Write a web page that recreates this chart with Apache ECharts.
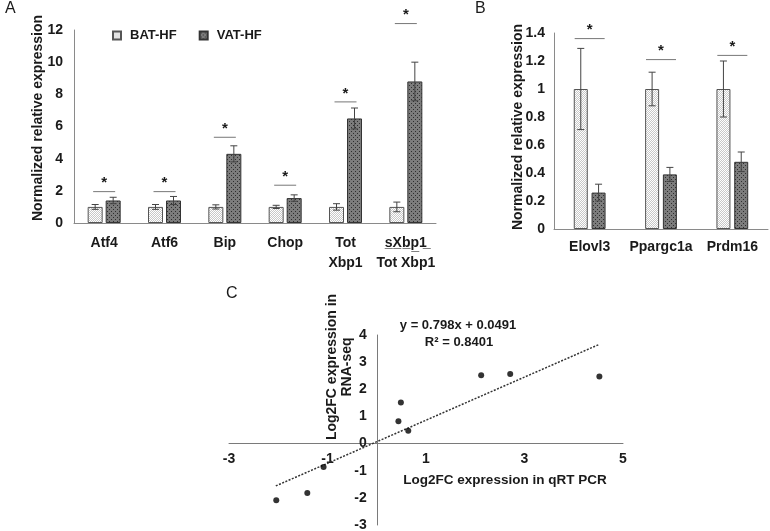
<!DOCTYPE html>
<html><head><meta charset="utf-8">
<script src="https://cdn.jsdelivr.net/npm/echarts@6/dist/echarts.min.js"></script>
<style>html,body{margin:0;padding:0;background:#fff}#c{width:770px;height:531px}</style>
</head><body><div id="c"></div>
<script>
// ---- Panel A data ----
const catsA = ['Atf4', 'Atf6', 'Bip', 'Chop', 'Tot\nXbp1', 'sXbp1\nTot Xbp1'];
const batA = [1, 1, 1, 1, 1, 1];
const batAErr = [0.15, 0.15, 0.13, 0.1, 0.2, 0.3];
const vatA = [1.4, 1.4, 4.3, 1.55, 6.5, 8.8];
const vatAErr = [0.2, 0.25, 0.5, 0.2, 0.65, 1.2];
const sigA = [1.95, 1.95, 5.33, 2.35, 7.53, 12.4];
const ticksA = [0, 2, 4, 6, 8, 10, 12];
// ---- Panel B data ----
const catsB = ['Elovl3', 'Ppargc1a', 'Prdm16'];
const batB = [1, 1, 1];
const batBErr = [0.29, 0.12, 0.2];
const vatB = [0.26, 0.39, 0.48];
const vatBErr = [0.06, 0.05, 0.07];
const sigB = [1.36, 1.21, 1.24];
const ticksB = [0, 0.2, 0.4, 0.6, 0.8, 1, 1.2, 1.4];
// ---- Panel C data ----
const qpcrX = [-2.04, -1.41, -1.08, 0.44, 0.49, 0.64, 2.12, 2.71, 4.52];
const rnaY = [-2.09, -1.82, -0.86, 0.82, 1.51, 0.47, 2.52, 2.56, 2.47];
const trendX = [-2.05, 4.5];
const trendY = [-1.56, 3.64];
const ticksCx = [-3, -1, 1, 3, 5];
const ticksCy = [-3, -2, -1, 0, 1, 2, 3, 4];
const seriesNames = ['BAT-HF', 'VAT-HF'];

const FONT = '"Liberation Sans", Arial, sans-serif';
const TXT = '#1a1a1a';

// grid C geometry (layout only)
const gC = { left: 229, top: 335, width: 394, height: 190 };
const cxMin = ticksCx[0], cxMax = ticksCx[ticksCx.length - 1];
const cyMin = ticksCy[0], cyMax = ticksCy[ticksCy.length - 1];
const xAxisOffsetC = -gC.height * (0 - cyMin) / (cyMax - cyMin);
const yAxisOffsetC = -gC.width * (0 - cxMin) / (cxMax - cxMin);

function makePattern(kind) {
  const c = document.createElement('canvas');
  const ctx = c.getContext('2d');
  if (kind === 'light') {
    c.width = 2; c.height = 2;
    ctx.fillStyle = '#ffffff'; ctx.fillRect(0, 0, 2, 2);
    ctx.fillStyle = '#c8c8c8'; ctx.fillRect(1, 0, 1, 1); ctx.fillRect(0, 1, 1, 1);
  } else {
    c.width = 4; c.height = 4;
    ctx.fillStyle = '#7c7c7c'; ctx.fillRect(0, 0, 4, 4);
    ctx.fillStyle = '#2e2e2e'; ctx.fillRect(1, 1, 1, 1); ctx.fillRect(3, 3, 1, 1);
  }
  return { image: c, repeat: 'repeat' };
}
const patLight = makePattern('light');
const patDark = makePattern('dark');

function errSeries(ax, vals, errs, offset) {
  return {
    type: 'custom', xAxisIndex: ax, yAxisIndex: ax, silent: true, z: 5,
    data: vals.map((v, i) => [i, v, errs[i]]),
    renderItem(params, api) {
      const i = api.value(0), v = api.value(1), e = api.value(2);
      const t = api.coord([i, v + e]), b = api.coord([i, v - e]);
      const x = t[0] + offset, cap = 3.5;
      const st = { stroke: '#444', lineWidth: 1 };
      return { type: 'group', children: [
        { type: 'line', shape: { x1: x, y1: t[1], x2: x, y2: b[1] }, style: st },
        { type: 'line', shape: { x1: x - cap, y1: t[1], x2: x + cap, y2: t[1] }, style: st },
        { type: 'line', shape: { x1: x - cap, y1: b[1], x2: x + cap, y2: b[1] }, style: st }
      ]};
    }
  };
}
function sigSeries(ax, sig, half) {
  return {
    type: 'custom', xAxisIndex: ax, yAxisIndex: ax, silent: true, z: 6,
    data: sig.map((v, i) => [i, v]),
    renderItem(params, api) {
      const p = api.coord([api.value(0), api.value(1)]);
      return { type: 'group', children: [
        { type: 'line', shape: { x1: p[0] - half, y1: p[1], x2: p[0] + half, y2: p[1] }, style: { stroke: '#777', lineWidth: 1 } },
        { type: 'text', x: p[0], y: p[1] - 1, style: { text: '*', font: 'bold 15px ' + FONT, fill: TXT, align: 'center', verticalAlign: 'bottom' } }
      ]};
    }
  };
}

const axisLineGray = { show: true, lineStyle: { color: '#8a8a8a', width: 1 } };

const option = {
  animation: false,
  backgroundColor: '#fff',
  textStyle: { fontFamily: FONT },
  legend: {
    data: seriesNames, left: 107, top: 24, icon: 'rect', itemWidth: 8, itemHeight: 8, itemGap: 22,
    textStyle: { fontFamily: FONT, fontWeight: 'bold', fontSize: 13, color: TXT, padding: [0, 0, 0, 4] }
  },
  grid: [
    { left: 74, top: 30, width: 362, height: 193, outerBoundsMode: 'none' },
    { left: 554, top: 33, width: 214, height: 196, outerBoundsMode: 'none' },
    { left: gC.left, top: gC.top, width: gC.width, height: gC.height, outerBoundsMode: 'none' }
  ],
  xAxis: [
    { type: 'category', gridIndex: 0, data: catsA, axisLine: axisLineGray, axisTick: { show: false },
      axisLabel: { margin: 10, fontFamily: FONT, fontWeight: 'bold', fontSize: 14, color: TXT, lineHeight: 20, interval: 0,
        formatter: (v, i) => i === 5 ? 's\u0332X\u0332b\u0332p\u03321\u0332\nTot Xbp1' : v } },
    { type: 'category', gridIndex: 1, data: catsB, axisLine: axisLineGray, axisTick: { show: false },
      axisLabel: { margin: 11, fontFamily: FONT, fontWeight: 'bold', fontSize: 14, color: TXT, interval: 0 } },
    { type: 'value', gridIndex: 2, min: cxMin, max: cxMax, interval: ticksCx[1] - ticksCx[0],
      position: 'bottom', offset: xAxisOffsetC,
      axisLine: { show: true, onZero: false, lineStyle: { color: '#7a7a7a' } }, axisTick: { show: false }, splitLine: { show: false },
      axisLabel: { margin: 9, fontFamily: FONT, fontWeight: 'bold', fontSize: 14, color: TXT } }
  ],
  yAxis: [
    { type: 'value', gridIndex: 0, min: ticksA[0], max: ticksA[ticksA.length - 1], interval: ticksA[1] - ticksA[0],
      axisLine: axisLineGray, axisTick: { show: false }, splitLine: { show: false },
      axisLabel: { margin: 11, fontFamily: FONT, fontWeight: 'bold', fontSize: 14, color: TXT } },
    { type: 'value', gridIndex: 1, min: ticksB[0], max: ticksB[ticksB.length - 1], interval: 0.2,
      axisLine: axisLineGray, axisTick: { show: false }, splitLine: { show: false },
      axisLabel: { margin: 9, fontFamily: FONT, fontWeight: 'bold', fontSize: 14, color: TXT,
        formatter: v => String(Math.round(v * 10) / 10) } },
    { type: 'value', gridIndex: 2, min: cyMin, max: cyMax, interval: 1,
      position: 'left', offset: yAxisOffsetC,
      axisLine: { show: true, onZero: false, lineStyle: { color: '#7a7a7a' } }, axisTick: { show: false }, splitLine: { show: false },
      axisLabel: { margin: 10, fontFamily: FONT, fontWeight: 'bold', fontSize: 14, color: TXT } }
  ],
  series: [
    { name: seriesNames[0], type: 'bar', xAxisIndex: 0, yAxisIndex: 0, data: batA, barWidth: 15, barGap: '20%',
      itemStyle: { color: patLight, borderColor: '#555', borderWidth: 1 } },
    { name: seriesNames[1], type: 'bar', xAxisIndex: 0, yAxisIndex: 0, data: vatA, barWidth: 15, barGap: '20%',
      itemStyle: { color: patDark, borderColor: '#333', borderWidth: 1 } },
    errSeries(0, batA, batAErr, -9),
    errSeries(0, vatA, vatAErr, 9),
    sigSeries(0, sigA, 11),
    { name: seriesNames[0], type: 'bar', xAxisIndex: 1, yAxisIndex: 1, data: batB, barWidth: 14, barGap: '27%',
      itemStyle: { color: patLight, borderColor: '#555', borderWidth: 1 } },
    { name: seriesNames[1], type: 'bar', xAxisIndex: 1, yAxisIndex: 1, data: vatB, barWidth: 14, barGap: '27%',
      itemStyle: { color: patDark, borderColor: '#333', borderWidth: 1 } },
    errSeries(1, batB, batBErr, -8.9),
    errSeries(1, vatB, vatBErr, 8.9),
    sigSeries(1, sigB, 15),
    { type: 'line', xAxisIndex: 2, yAxisIndex: 2, data: trendX.map((x, i) => [x, trendY[i]]), showSymbol: false, silent: true,
      lineStyle: { color: '#333', width: 1.5, type: [2, 1.5] }, z: 3 },
    { type: 'scatter', xAxisIndex: 2, yAxisIndex: 2, data: qpcrX.map((x, i) => [x, rnaY[i]]), symbolSize: 6,
      itemStyle: { color: '#000' }, z: 4 }
  ],
  graphic: [
    { type: 'text', x: 5, y: 1, style: { text: 'A', font: '16px ' + FONT, fill: TXT } },
    { type: 'text', x: 475, y: 1, style: { text: 'B', font: '16px ' + FONT, fill: TXT } },
    { type: 'text', x: 226, y: 286, style: { text: 'C', font: '16px ' + FONT, fill: TXT } },
    { type: 'text', x: 38, y: 118, rotation: Math.PI / 2,
      style: { text: 'Normalized relative expression', font: 'bold 14px ' + FONT, fill: TXT, align: 'center', verticalAlign: 'middle' } },
    { type: 'text', x: 518, y: 127, rotation: Math.PI / 2,
      style: { text: 'Normalized relative expression', font: 'bold 14px ' + FONT, fill: TXT, align: 'center', verticalAlign: 'middle' } },
    { type: 'text', x: 340, y: 367, rotation: Math.PI / 2,
      style: { text: 'Log2FC expression in\nRNA-seq', font: 'bold 14px ' + FONT, lineHeight: 15, fill: TXT, align: 'center', verticalAlign: 'middle' } },
    { type: 'text', x: 505, y: 480,
      style: { text: 'Log2FC expression in qRT PCR', font: 'bold 13.5px ' + FONT, fill: TXT, align: 'center', verticalAlign: 'middle' } },
    { type: 'text', x: 458, y: 325,
      style: { text: 'y = 0.798x + 0.0491', font: 'bold 13px ' + FONT, fill: TXT, align: 'center', verticalAlign: 'middle' } },
    { type: 'text', x: 459, y: 342,
      style: { text: 'R² = 0.8401', font: 'bold 13px ' + FONT, fill: TXT, align: 'center', verticalAlign: 'middle' } }
  ]
};
const chart = echarts.init(document.getElementById('c'), null, { renderer: 'canvas' });
chart.setOption(option);
</script></body></html>
